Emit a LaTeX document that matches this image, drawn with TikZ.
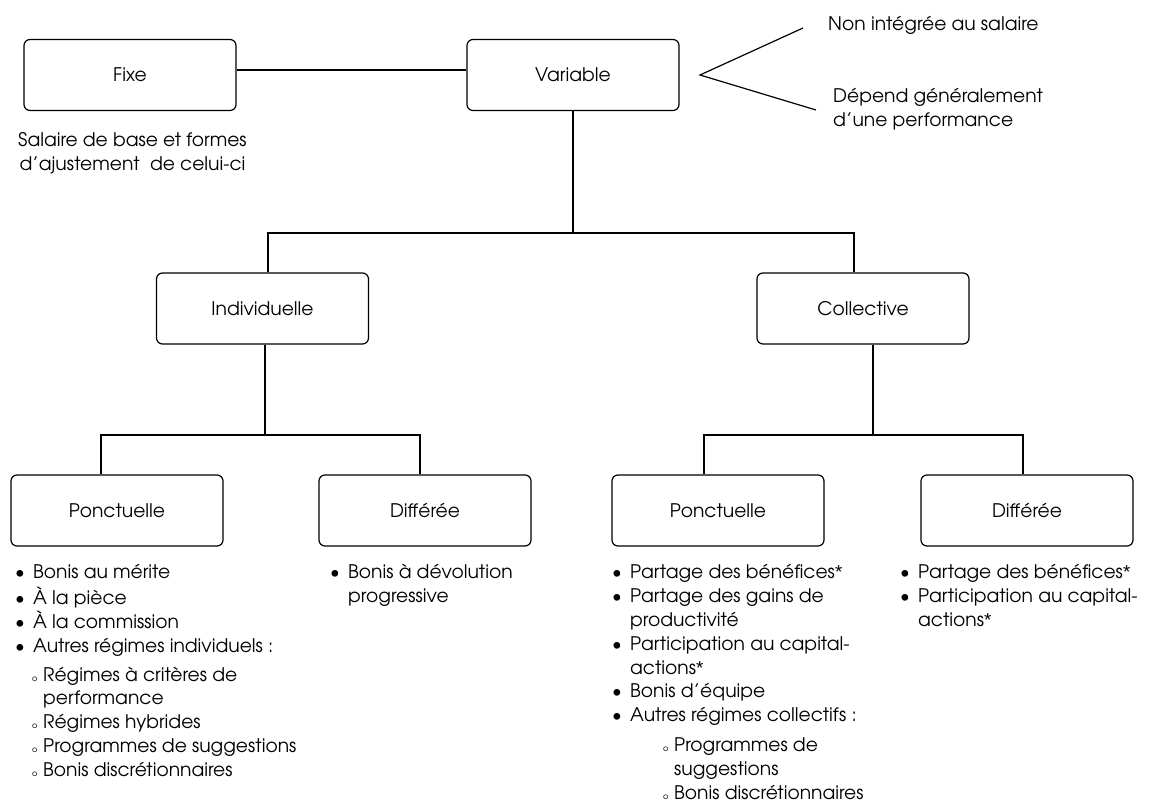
\documentclass[tikz,border=0pt]{standalone}
\usepackage{fontspec}
\setmainfont{TeX Gyre Adventor}
\newfontfamily\astfont{Liberation Sans}
\newcommand\lbl{\fontsize{18.7}{23.8}\selectfont}
\newcommand\bul{\makebox[18pt][l]{\textbullet}}
\newcommand\ind{\hspace*{18pt}}
\newcommand\subb{\makebox[11pt][l]{\fontsize{8}{8}\selectfont o}}
\newcommand\astr{{\astfont *}}
\tikzset{
  box/.style={draw, rounded corners=6pt, minimum width=212pt, minimum height=71pt,
              line width=1.2pt, font=\lbl, inner sep=0pt},
  ln/.style={line width=1.2pt},
  txt/.style={font=\lbl, inner sep=0pt, align=left},
}
\begin{document}
\begin{tikzpicture}[x=1pt,y=-1pt]
\useasboundingbox (0,0) rectangle (1168,808);
% boxes
\node[box] (fixe) at (130,75) {Fixe};
\node[box] (variable) at (573,75) {Variable};
\node[box] (indiv) at (262.5,308.5) {Individuelle};
\node[box] (coll) at (863,308.5) {Collective};
\node[box] (p1) at (117,510.5) {Ponctuelle};
\node[box] (d1) at (425,510.5) {Différée};
\node[box] (p2) at (718,510.5) {Ponctuelle};
\node[box] (d2) at (1027,510.5) {Différée};
% connectors
\draw[ln] ([yshift=5pt]fixe.east) -- ([yshift=5pt]variable.west);
\coordinate (j0) at (573,233);
\coordinate (j1) at (265,435);
\coordinate (j2) at (873,435);
\draw[ln] (variable.south) -- (j0);
\draw[ln] ([xshift=5.5pt]indiv.north) |- (j0);
\draw[ln] ([xshift=-9pt]coll.north) |- (j0);
\draw[ln] ([xshift=2.5pt]indiv.south) -- (j1);
\draw[ln] ([xshift=-16pt]p1.north) |- (j1);
\draw[ln] ([xshift=-5pt]d1.north) |- (j1);
\draw[ln] ([xshift=10pt]coll.south) -- (j2);
\draw[ln] ([xshift=-14pt]p2.north) |- (j2);
\draw[ln] ([xshift=-4pt]d2.north) |- (j2);
% angle
\coordinate (vt) at (700,75);
\coordinate (a1) at (803,28);
\coordinate (a2) at (816,110);
\draw[ln] (a1) -- (vt) -- (a2);
% texts
\node[txt, anchor=west] (non) at (828,25) {Non intégrée au salaire};
\node[txt, anchor=north west] (dep) at (833,86) {\strut Dépend généralement\\d’une performance};
\node[txt, anchor=north west, align=center] (sal) at (18,130) {\strut Salaire de base et formes\\d’ajustement\ \ de celui-ci};
% lists
\node[txt, anchor=north west] (l1) at (15,562) {\strut\bul Bonis au mérite\\
\bul À la pièce\\
\bul À la commission\\
\bul Autres régimes individuels :\\[5pt]
\hspace*{17pt}\subb Régimes à critères de\\
\hspace*{28pt}performance\\
\hspace*{17pt}\subb Régimes hybrides\\
\hspace*{17pt}\subb Programmes de suggestions\\
\hspace*{17pt}\subb Bonis discrétionnaires};
\node[txt, anchor=north west] (l2) at (330,562) {\strut\bul Bonis à dévolution\\
\ind progressive};
\node[txt, anchor=north west] (l3) at (612,562) {\strut\bul Partage des bénéfices\astr\\
\bul Partage des gains de\\
\ind productivité\\
\bul Participation au capital-\\
\ind actions\astr\\
\bul Bonis d’équipe\\
\bul Autres régimes collectifs :\\[6pt]
\hspace*{51pt}\subb Programmes de\\
\hspace*{62pt}suggestions\\
\hspace*{51pt}\subb Bonis discrétionnaires};
\node[txt, anchor=north west] (l4) at (900,562) {\strut\bul Partage des bénéfices\astr\\
\bul Participation au capital-\\
\ind actions\astr};
\end{tikzpicture}
\end{document}
